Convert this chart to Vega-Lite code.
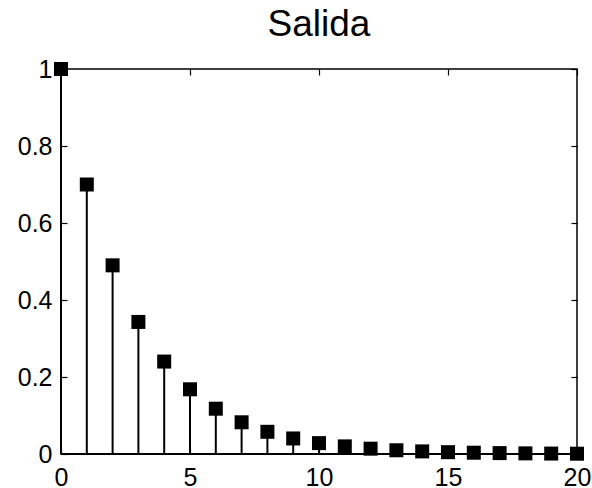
{
  "$schema": "https://vega.github.io/schema/vega-lite/v6.json",
  "width": 516,
  "height": 385,
  "autosize": "none",
  "padding": {"left": 61, "top": 69, "right": 15, "bottom": 34},
  "background": "white",
  "title": {
    "text": "Salida",
    "fontSize": 37,
    "font": "Liberation Sans",
    "fontWeight": "normal",
    "color": "black",
    "anchor": "middle",
    "offset": 13
  },
  "config": {
    "view": {"stroke": "black", "strokeWidth": 1.5},
    "axis": {
      "labelFont": "Liberation Sans",
      "labelFontSize": 25,
      "labelColor": "black",
      "tickColor": "black",
      "tickSize": -6,
      "tickWidth": 1.2,
      "domain": false,
      "grid": false,
      "title": null,
      "format": "~g"
    }
  },
  "data": {
    "values": [
      {"n": 0, "y": 1.0},
      {"n": 1, "y": 0.7},
      {"n": 2, "y": 0.49},
      {"n": 3, "y": 0.343},
      {"n": 4, "y": 0.2401},
      {"n": 5, "y": 0.16807},
      {"n": 6, "y": 0.117649},
      {"n": 7, "y": 0.0823543},
      {"n": 8, "y": 0.057648},
      {"n": 9, "y": 0.0403536},
      {"n": 10, "y": 0.0282475},
      {"n": 11, "y": 0.0197733},
      {"n": 12, "y": 0.0138413},
      {"n": 13, "y": 0.00968890},
      {"n": 14, "y": 0.00678223},
      {"n": 15, "y": 0.00474756},
      {"n": 16, "y": 0.00332329},
      {"n": 17, "y": 0.00232631},
      {"n": 18, "y": 0.00162841},
      {"n": 19, "y": 0.00113989},
      {"n": 20, "y": 0.000797923}
    ]
  },
  "layer": [
    {
      "mark": {"type": "rule", "color": "black", "strokeWidth": 2},
      "encoding": {
        "x": {
          "field": "n",
          "type": "quantitative",
          "scale": {"domain": [0, 20], "nice": false, "zero": false},
          "axis": {"values": [0, 5, 10, 15, 20], "labelPadding": 17, "labelFlush": false}
        },
        "y": {
          "field": "y",
          "type": "quantitative",
          "scale": {"domain": [0, 1], "nice": false},
          "axis": {"values": [0, 0.2, 0.4, 0.6, 0.8, 1], "labelPadding": 15, "labelFlush": false}
        },
        "y2": {"datum": 0}
      }
    },
    {
      "mark": {"type": "rule", "color": "black", "strokeWidth": 1.5},
      "encoding": {
        "x": {"datum": 0, "type": "quantitative", "axis": null},
        "x2": {"datum": 20},
        "y": {"datum": 0, "type": "quantitative", "axis": null}
      }
    },
    {
      "mark": {"type": "point", "shape": "square", "filled": true, "color": "black", "opacity": 1, "size": 196, "clip": false},
      "encoding": {
        "x": {"field": "n", "type": "quantitative", "axis": null},
        "y": {"field": "y", "type": "quantitative", "axis": null}
      }
    },
    {
      "mark": {"type": "rule", "opacity": 0},
      "encoding": {
        "x": {"field": "n", "type": "quantitative", "axis": {"orient": "top", "values": [0, 5, 10, 15, 20], "labels": false}},
        "y": {"field": "y", "type": "quantitative", "axis": {"orient": "right", "values": [0, 0.2, 0.4, 0.6, 0.8, 1], "labels": false}}
      }
    }
  ],
  "resolve": {"axis": {"x": "independent", "y": "independent"}}
}
